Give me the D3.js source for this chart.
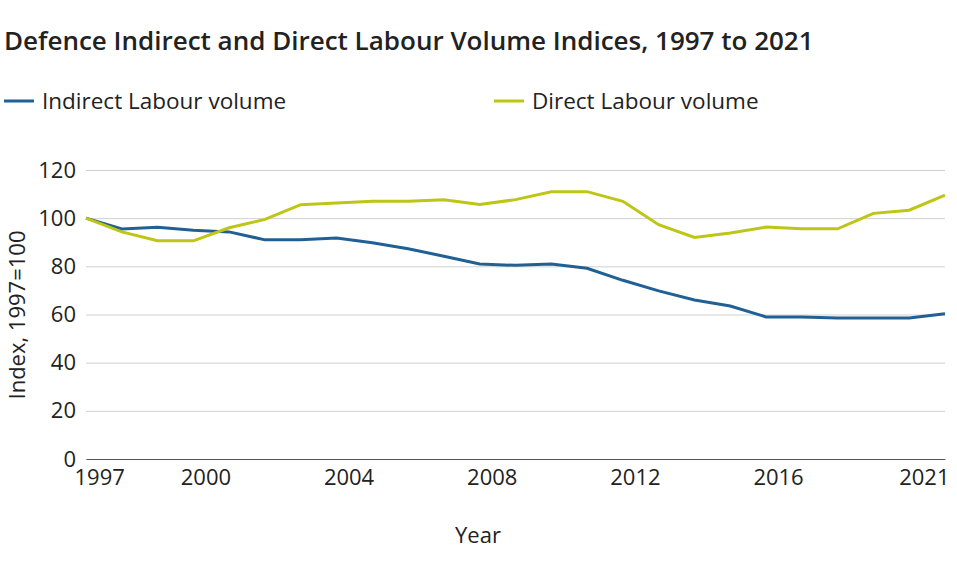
<!DOCTYPE html>
<html><head><meta charset="utf-8">
<script src="https://cdn.jsdelivr.net/npm/d3@7"></script>
<style>body{margin:0;background:#fff;font-family:"Open Sans",sans-serif;}</style>
</head><body><svg id="c" width="957" height="561"></svg>
<script>
const years = d3.range(1997, 2022);
const indirect = [100,95.5,96.2,95,94.3,91,91,91.8,89.8,87.3,84.2,81,80.4,81,79.2,74.2,69.8,66,63.5,59,59,58.5,58.5,58.5,60.3];
const direct = [100,94.3,90.6,90.6,96,99.5,105.6,106.3,107,107,107.6,105.7,107.7,111,111,107,97.3,92,93.8,96.3,95.6,95.6,102,103.3,109.6];
const yTicks = [0,20,40,60,80,100,120];
const xTicks = [1997,2000,2004,2008,2012,2016,2021];
const seriesNames = ["Indirect Labour volume","Direct Labour volume"];
const colors = ["#206095","#bdc614"];

const svg = d3.select("#c");
const x = d3.scaleLinear().domain([1997,2021]).range([86,945]);
const y = d3.scaleLinear().domain([0,120]).range([459,170]);

svg.append("text").attr("x",4).attr("y",50).attr("font-size",26).attr("font-weight",600).attr("fill","#222")
  .text("Defence Indirect and Direct Labour Volume Indices, 1997 to 2021");

seriesNames.forEach((n,i)=>{
  const lx = [4,494][i];
  svg.append("line").attr("x1",lx).attr("x2",lx+30).attr("y1",101).attr("y2",101).attr("stroke",colors[i]).attr("stroke-width",3);
  svg.append("text").attr("x",lx+38).attr("y",109).attr("font-size",22.5).attr("fill","#222").text(n);
});

const gy = svg.append("g").attr("transform","translate(86,0)")
  .call(d3.axisLeft(y).tickValues(yTicks).tickSize(-859).tickPadding(10));
gy.select(".domain").remove();
gy.selectAll(".tick line").attr("stroke","#d0d0d0");
gy.selectAll(".tick text").attr("font-size",22).attr("fill","#222").attr("font-family","Open Sans");

const gx = svg.append("g").attr("transform","translate(0,459)")
  .call(d3.axisBottom(x).tickValues(xTicks).tickFormat(d3.format("d")).tickSize(0).tickPadding(10));
gx.select(".domain").attr("stroke","#555");
gx.selectAll(".tick text").attr("font-size",22).attr("fill","#222").attr("font-family","Open Sans")
  .attr("text-anchor",d=>d===1997?"start":d===2021?"end":"middle")
  .attr("dx",d=>d===1997?-12:(d===2021?4:12));

svg.append("text").attr("x",478).attr("y",543).attr("text-anchor","middle").attr("font-size",22).attr("fill","#222").text("Year");
svg.append("text").attr("transform","translate(25,315) rotate(-90)").attr("text-anchor","middle").attr("font-size",22).attr("fill","#222").text("Index, 1997=100");

const line = d3.line().x((d,i)=>x(years[i])).y(d=>y(d));
[indirect,direct].forEach((s,i)=>{
  svg.append("path").attr("d",line(s)).attr("fill","none").attr("stroke",colors[i]).attr("stroke-width",3);
});
</script></body></html>
